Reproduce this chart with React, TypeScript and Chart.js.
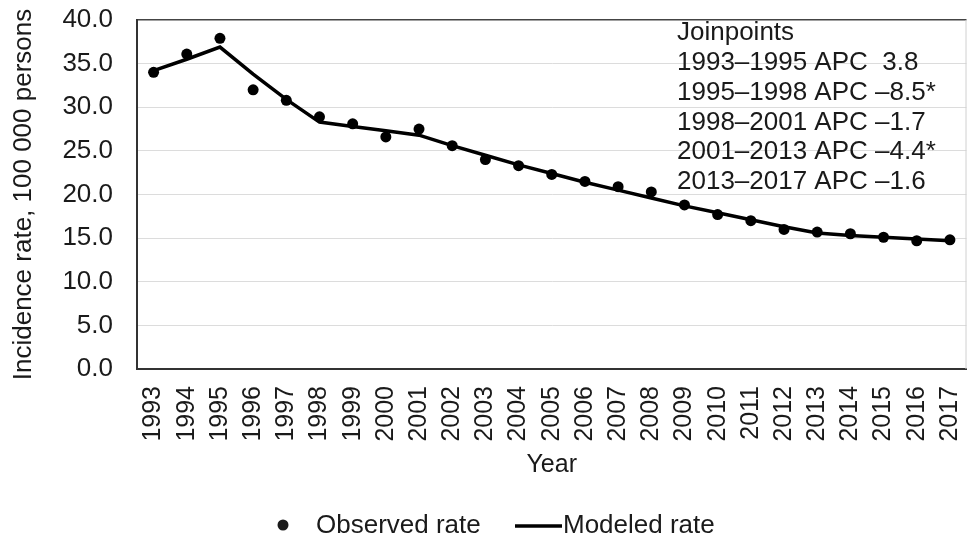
import React, { useEffect, useRef } from "react";
import { Chart, registerables } from "chart.js";

Chart.register(...registerables);

const years = [
  "1993", "1994", "1995", "1996", "1997", "1998", "1999", "2000", "2001", "2002",
  "2003", "2004", "2005", "2006", "2007", "2008", "2009", "2010", "2011", "2012",
  "2013", "2014", "2015", "2016", "2017",
];

const observedRate = [
  34.0, 36.1, 37.9, 32.0, 30.8, 28.9, 28.1, 26.6, 27.5, 25.6,
  24.0, 23.3, 22.3, 21.5, 20.9, 20.3, 18.8, 17.7, 17.0, 16.0,
  15.7, 15.5, 15.1, 14.7, 14.8,
];

const modeledRate = [
  34.2, 35.5, 36.9, 33.8, 30.9, 28.3, 27.8, 27.3, 26.8, 25.6,
  24.5, 23.4, 22.4, 21.4, 20.5, 19.6, 18.7, 17.9, 17.1, 16.3,
  15.6, 15.3, 15.1, 14.9, 14.7,
];

const joinpointLines = [
  "Joinpoints",
  "1993\u20131995 APC  3.8",
  "1995\u20131998 APC \u20138.5*",
  "1998\u20132001 APC \u20131.7",
  "2001\u20132013 APC \u20134.4*",
  "2013\u20132017 APC \u20131.6",
];

const yTicks = [0, 5, 10, 15, 20, 25, 30, 35, 40];

const FONT = "'Liberation Sans', Arial, Helvetica, sans-serif";
const TEXT = "#1a1a1a";

export default function App() {
  const ref = useRef<HTMLCanvasElement | null>(null);

  useEffect(() => {
    document.body.style.margin = "0";
    const canvas = ref.current;
    if (!canvas) return;

    const extras = {
      id: "extras",
      afterDraw(chart: any) {
        const { ctx, chartArea } = chart;
        ctx.save();
        // right border of plot
        ctx.strokeStyle = "#d0d0d0";
        ctx.lineWidth = 1;
        ctx.beginPath();
        ctx.moveTo(chartArea.right - 0.5, chartArea.top);
        ctx.lineTo(chartArea.right - 0.5, chartArea.bottom);
        ctx.stroke();

        // joinpoints annotation
        ctx.fillStyle = TEXT;
        ctx.font = `26px ${FONT}`;
        ctx.textAlign = "left";
        ctx.textBaseline = "middle";
        joinpointLines.forEach((t, i) => {
          ctx.fillText(t, 677, 33 + i * 29.8);
        });

        // legend
        ctx.font = `26px ${FONT}`;
        ctx.beginPath();
        ctx.arc(283, 525, 5.5, 0, Math.PI * 2);
        ctx.fill();
        ctx.fillText("Observed rate", 316, 526);
        ctx.strokeStyle = "#000";
        ctx.lineWidth = 3.5;
        ctx.beginPath();
        ctx.moveTo(515, 526);
        ctx.lineTo(562, 526);
        ctx.stroke();
        ctx.fillText("Modeled rate", 563, 526);
        ctx.restore();
      },
    };

    const chart = new Chart(canvas, {
      type: "line",
      data: {
        labels: years,
        datasets: [
          {
            label: "Observed rate",
            data: observedRate,
            showLine: false,
            pointRadius: 5.5,
            pointBackgroundColor: "#000",
            pointBorderColor: "#000",
            pointBorderWidth: 0,
            borderColor: "#000",
            backgroundColor: "#000",
          },
          {
            label: "Modeled rate",
            data: modeledRate,
            borderColor: "#000",
            backgroundColor: "#000",
            borderWidth: 3.5,
            pointRadius: 0,
            tension: 0,
          },
        ],
      },
      options: {
        animation: false,
        responsive: false,
        devicePixelRatio: 1,
        layout: { padding: { top: 20, right: 2, left: 0, bottom: 71 } },
        plugins: {
          legend: { display: false },
          tooltip: { enabled: false },
        },
        scales: {
          x: {
            type: "category",
            offset: true,
            grid: { display: false, drawTicks: false },
            border: { display: true, color: "#333", width: 2 },
            ticks: {
              color: TEXT,
              font: { family: FONT, size: 25 },
              minRotation: 90,
              maxRotation: 90,
              padding: 17,
              autoSkip: false,
            },
            title: {
              display: true,
              text: "Year",
              color: TEXT,
              font: { family: FONT, size: 25 },
              padding: { top: 0, bottom: 0 },
            },
            afterFit(scale: any) {
              scale.height = 111;
              scale.paddingLeft = 0;
              scale.paddingRight = 0;
            },
          },
          y: {
            min: 0,
            max: 40,
            afterBuildTicks(scale: any) {
              scale.ticks = yTicks.map((v) => ({ value: v }));
            },
            grid: {
              drawTicks: false,
              color: (c: any) => (c.tick && c.tick.value === 40 ? "#444" : "#dcdcdc"),
              lineWidth: (c: any) => (c.tick && c.tick.value === 40 ? 1.5 : 1),
            },
            border: { display: true, color: "#333", width: 2 },
            ticks: {
              color: TEXT,
              font: { family: FONT, size: 26 },
              padding: 24,
              callback: (v: any) => Number(v).toFixed(1),
            },
            title: {
              display: true,
              text: "Incidence rate, 100 000 persons",
              color: TEXT,
              font: { family: FONT, size: 26 },
              padding: { top: 8, bottom: 0 },
            },
            afterFit(scale: any) {
              scale.width = 137;
              scale.paddingTop = 0;
              scale.paddingBottom = 0;
            },
          },
        },
      },
      plugins: [extras],
    });

    return () => chart.destroy();
  }, []);

  return (
    <div style={{ position: "absolute", left: 0, top: 0, width: 972, height: 551 }}>
      <canvas ref={ref} width={972} height={551} style={{ width: 972, height: 551 }} />
    </div>
  );
}
